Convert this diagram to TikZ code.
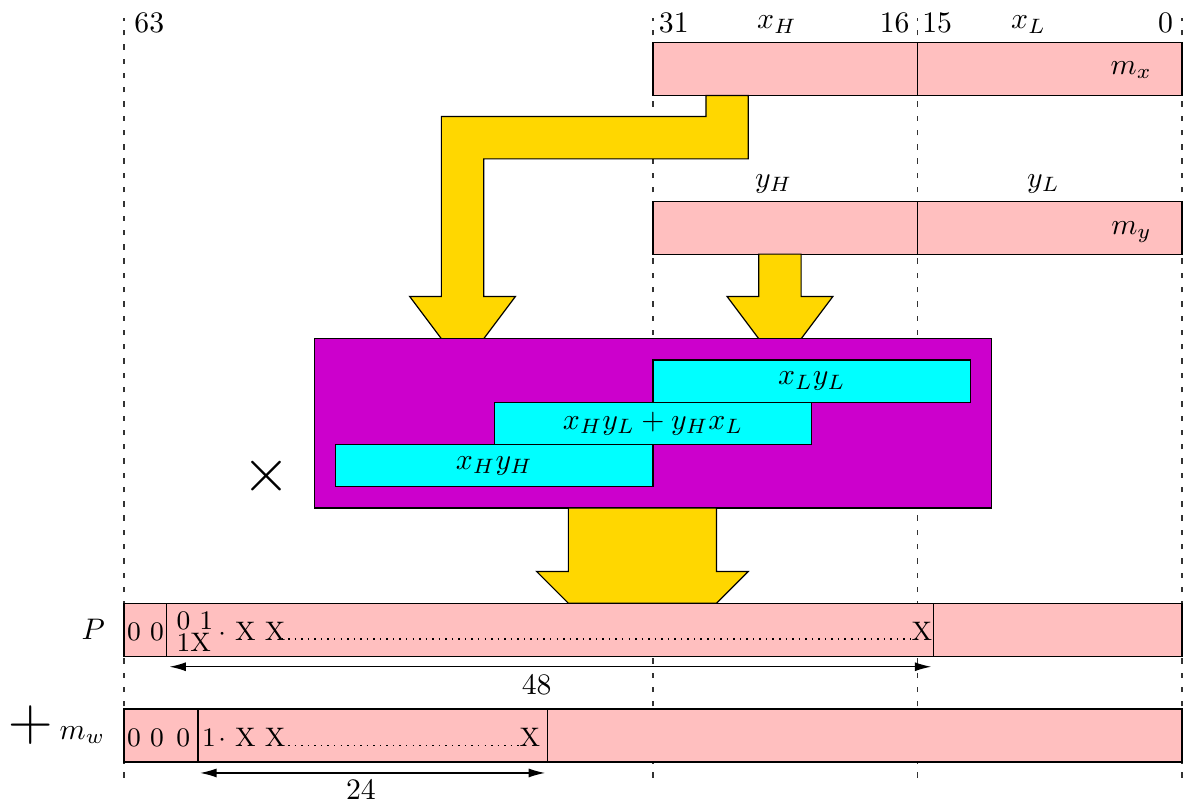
\documentclass[tikz,border=0pt]{standalone}
\usetikzlibrary{arrows.meta}
\definecolor{regpink}{RGB}{255,191,191}
\definecolor{flowgold}{RGB}{255,215,0}
\definecolor{mulmag}{RGB}{204,0,204}
\definecolor{partcyan}{RGB}{0,255,255}
\tikzset{
  reg/.style={draw=black,fill=regpink,line width=0.4pt},
  flow/.style={draw=black,fill=flowgold,line width=0.4pt},
  mulbox/.style={draw=black,fill=mulmag,line width=0.4pt},
  part/.style={draw=black,fill=partcyan,minimum width=3.75cm,minimum height=0.5cm,inner sep=0pt},
  bitln/.style={black!80,line width=0.4pt,dash pattern=on 1.8pt off 3pt},
  dimln/.style={{Latex[length=5.5pt,width=3pt]}-{Latex[length=5.5pt,width=3pt]},line width=0.4pt},
  dotln/.style={line width=0.5pt,dash pattern=on 0.5pt off 1.7pt},
  lbl/.style={inner sep=0pt},
  bits/.style={lbl,font=\small},
}

\begin{document}
\begin{tikzpicture}[x=0.125cm,y=0.125cm]
  \useasboundingbox (-11.72,-4.06) rectangle (100.85,72.02);
  % bit boundaries 63 / 31 / 16 / 0
  \foreach \b in {0,50,75,100}{\draw[bitln] (\b,-1.5)--(\b,70.3);}
  \node[lbl,anchor=base west] (b63) at (0.93,68.9) {63};
  \node[lbl,anchor=base west] (b31) at (50.5,68.9) {31};
  \node[lbl,anchor=base east] (b16) at (74.3,68.9) {16};
  \node[lbl,anchor=base west] (b15) at (75.4,68.9) {15};
  \node[lbl,anchor=base east] (b0) at (99.2,68.9) {0};
  \node[lbl,anchor=base] (xh) at (61.7,69.3) {$x_H$};
  \node[lbl,anchor=base] (xl) at (85.5,69.3) {$x_L$};
  \node[lbl,anchor=base] (yh) at (61.4,54.3) {$y_H$};
  \node[lbl,anchor=base] (yl) at (86.9,54.3) {$y_L$};

  % operands
  \draw[reg] (50,63) rectangle (100,68); \draw (75,63)--(75,68);
  \draw[reg] (50,48) rectangle (100,53); \draw (75,48)--(75,53);
  \node[lbl,anchor=base east] (mx) at (97.2,65.0) {$m_x$};
  \node[lbl,anchor=base east] (my) at (97.2,49.9) {$m_y$};

  % halves into the multiplier
  \draw[flow] (55,63)--(55,61)--(30,61)--(30,44)--(27,44)--(30,40)--(34,40)--(37,44)
    --(34,44)--(34,57)--(59,57)--(59,63)--cycle;
  \draw[flow] (60,48)--(60,44)--(57,44)--(60,40)--(64,40)--(67,44)--(64,44)--(64,48)--cycle;

  \draw[mulbox] (18,24) rectangle (82,40);
  \node[part] (ll) at (65,36) {$x_Ly_L$};
  \node[part] (mid) at (50,32) {$x_Hy_L+y_Hx_L$};
  \node[part] (hh) at (35,28) {$x_Hy_H$};
  \node (times) at (13.45,27) {\huge$\times$};
  \draw[flow] (42,24)--(42,18)--(39,18)--(42,15)--(56,15)--(59,18)--(56,18)--(56,24)--cycle;

  % product P
  \draw[reg] (0,10) rectangle (100,15); \draw (4,10)--(4,15) (76.5,10)--(76.5,15);
  \node (plbl) at (-2.9,12.5) {$P$};
  \node[bits,anchor=base west] (p00) at (0.25,11.5) {0 0};
  \node[bits,anchor=base west] (ptop) at (4.91,12.48) {0 1};
  \node[bits,anchor=base west] (pbot) at (4.91,10.43) {1X};
  \node[bits,anchor=base west] (pxx) at (8.86,11.5) {$\cdot$ X X};
  \node[bits,anchor=base east] (px) at (76.45,11.5) {X};
  \draw[dotln] (14.9,11.6)--(74.6,11.6);

  % addend m_w
  \draw[reg] (0,0) rectangle (100,5); \draw (7,0)--(7,5) (40,0)--(40,5);
  \node (plus) at (-8.8,3.5) {\huge$+$};
  \node[lbl,anchor=base west] (mwlbl) at (-6.14,2.15) {$m_w$};
  \node[bits,anchor=base west] (w00) at (0.25,1.45) {0 0};
  \node[bits,anchor=base west] (w0) at (4.9,1.45) {0};
  \node[bits,anchor=base west] (w1) at (7.33,1.45) {1};
  \node[bits,anchor=base west] (wxx) at (8.86,1.45) {$\cdot$ X X};
  \node[bits,anchor=base east] (wx) at (39.4,1.45) {X};
  \draw[dotln] (14.9,1.55)--(37.8,1.55);

  % widths
  \coordinate (pa) at (4.3,9);
  \coordinate (pb) at (76.3,9);
  \coordinate (wa) at (7.2,-1.04);
  \coordinate (wb) at (39.8,-1.04);
  \draw[dimln] (pa)--(pb);
  \draw[dimln] (wa)--(wb);
  \node (n48) at (39,7.3) {48};
  \node (n24) at (22.4,-2.55) {24};
\end{tikzpicture}
\end{document}
